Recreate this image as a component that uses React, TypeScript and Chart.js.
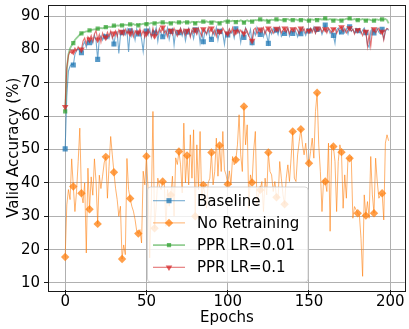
import React, { useEffect, useRef } from 'react';
import { Chart, registerables } from 'chart.js';

Chart.register(...registerables);

const epochs: number[] = Array.from({ length: 200 }, (_, i) => i);

const baseline: number[] = [
  50.2, 66.0, 73.5, 75.0, 75.6, 75.3, 78.5, 79.6, 80.2, 79.4,
  79.0, 81.2, 82.3, 80.6, 82.8, 82.0, 83.1, 81.9, 84.2, 82.6,
  77.0, 83.2, 84.1, 82.8, 84.6, 83.8, 84.4, 83.3, 85.1, 84.0,
  81.6, 84.5, 85.2, 78.8, 84.1, 85.0, 86.0, 84.4, 85.9, 79.2,
  85.6, 83.9, 85.4, 82.8, 86.1, 84.6, 85.5, 83.1, 79.4, 84.6,
  85.5, 84.2, 86.3, 83.6, 85.8, 84.9, 86.5, 82.4, 85.7, 84.8,
  83.8, 85.9, 84.2, 86.4, 83.0, 85.4, 86.2, 81.3, 85.6, 84.5,
  85.0, 86.3, 84.1, 85.8, 82.6, 85.2, 86.4, 84.0, 85.5, 83.2,
  85.9, 84.7, 86.2, 81.9, 85.3, 82.3, 85.8, 84.4, 86.0, 83.5,
  83.0, 85.6, 84.3, 86.5, 82.8, 85.4, 86.1, 84.6, 81.5, 85.2,
  84.3, 86.0, 84.8, 85.5, 83.4, 86.2, 84.9, 85.7, 82.1, 85.3,
  83.6, 86.4, 85.0, 84.1, 86.0, 82.0, 85.5, 84.3, 86.6, 85.1,
  84.5, 86.2, 83.8, 85.6, 84.2, 81.8, 85.9, 84.6, 86.3, 85.0,
  85.8, 84.4, 86.5, 83.9, 84.8, 84.8, 85.2, 86.4, 84.0, 85.7,
  84.8, 86.3, 85.1, 83.8, 86.0, 84.7, 86.5, 85.3, 84.2, 86.1,
  85.5, 86.2, 85.4, 86.7, 84.9, 86.0, 85.6, 86.3, 84.5, 85.8,
  87.3, 85.3, 86.1, 84.8, 85.5, 84.2, 81.8, 85.9, 86.4, 84.7,
  85.2, 86.5, 85.0, 86.2, 84.6, 86.8, 85.4, 86.0, 84.9, 86.3,
  85.6, 86.1, 84.8, 85.7, 86.4, 85.0, 81.4, 80.6, 85.5, 86.2,
  84.9, 85.8, 86.3, 85.1, 84.6, 86.0, 83.1, 85.4, 86.2, 85.7,
];

const noRetraining: number[] = [
  17.8, 33.4, 38.0, 35.0, 47.2, 38.9, 31.4, 37.5, 46.4, 56.4,
  36.9, 34.0, 40.0, 19.0, 44.4, 32.1, 41.8, 36.3, 47.2, 40.3,
  27.7, 42.3, 38.3, 42.0, 46.0, 47.8, 35.4, 45.0, 53.9, 48.4,
  43.2, 38.4, 35.0, 30.0, 33.0, 17.2, 21.4, 18.5, 47.3, 38.0,
  35.3, 33.0, 31.5, 29.0, 25.6, 24.8, 26.0, 22.0, 43.5, 39.4,
  48.0, 38.0, 17.5, 34.0, 61.4, 26.4, 33.0, 41.4, 39.0, 38.0,
  40.4, 39.9, 27.0, 38.0, 33.0, 36.4, 42.0, 30.0, 47.5, 45.5,
  49.4, 45.4, 37.0, 57.9, 40.0, 48.2, 39.4, 54.4, 41.4, 55.9,
  30.0, 51.4, 38.0, 55.4, 35.0, 39.4, 36.4, 32.4, 40.0, 41.4,
  49.1, 39.4, 43.4, 53.4, 42.0, 51.2, 43.4, 55.4, 43.9, 42.4,
  39.6, 43.6, 39.4, 47.9, 45.4, 46.9, 51.4, 60.4, 48.4, 43.4,
  62.9, 51.4, 57.4, 32.4, 42.4, 40.1, 49.9, 55.4, 33.4, 36.4,
  37.9, 40.4, 31.4, 41.4, 36.4, 49.1, 43.4, 42.4, 37.4, 40.4,
  35.7, 35.4, 46.4, 41.4, 36.4, 33.6, 41.4, 45.4, 40.4, 47.4,
  55.4, 41.4, 40.4, 48.4, 52.4, 56.1, 51.4, 48.4, 51.9, 46.4,
  45.9, 49.4, 53.4, 47.4, 61.4, 67.0, 51.4, 43.4, 31.4, 40.9,
  40.4, 37.4, 51.9, 25.5, 51.4, 50.9, 46.4, 31.4, 46.4, 51.4,
  49.2, 32.4, 42.4, 35.4, 47.4, 47.4, 47.9, 29.4, 32.9, 31.9,
  30.9, 30.4, 23.4, 12.0, 36.4, 30.2, 34.4, 29.4, 47.9, 36.4,
  30.9, 47.4, 40.4, 35.4, 36.4, 36.9, 28.9, 51.9, 54.4, 52.6,
];

const pprLr001: number[] = [
  61.4, 74.0, 78.5, 80.3, 81.2, 81.9, 82.8, 83.4, 83.9, 84.4,
  84.8, 85.0, 85.2, 85.4, 85.5, 85.7, 85.8, 85.9, 86.0, 86.1,
  86.2, 86.2, 86.4, 86.3, 86.5, 86.7, 86.6, 86.8, 86.7, 86.9,
  87.1, 87.0, 87.2, 87.1, 87.3, 87.2, 87.3, 87.4, 87.3, 87.5,
  87.5, 87.4, 87.6, 87.3, 87.5, 87.2, 87.6, 87.5, 87.7, 87.6,
  87.6, 87.8, 87.7, 87.9, 87.8, 87.8, 88.0, 87.9, 88.1, 88.0,
  88.1, 87.9, 88.0, 87.8, 88.1, 87.8, 88.0, 88.2, 88.0, 88.1,
  88.1, 88.2, 88.0, 88.3, 88.1, 88.1, 88.2, 88.0, 88.3, 88.2,
  87.8, 88.2, 88.3, 88.1, 88.4, 88.3, 88.2, 88.4, 88.1, 88.3,
  88.0, 88.3, 88.4, 88.2, 88.1, 87.8, 88.3, 88.2, 88.5, 88.4,
  88.3, 88.5, 88.4, 88.6, 88.5, 88.2, 88.6, 88.4, 88.7, 88.5,
  88.0, 88.5, 88.7, 88.4, 88.6, 88.3, 88.6, 88.8, 88.7, 88.9,
  89.0, 88.7, 88.8, 88.6, 88.9, 88.3, 88.7, 88.9, 88.8, 89.0,
  89.0, 88.8, 88.9, 88.7, 88.9, 88.8, 88.9, 89.1, 88.8, 88.9,
  88.8, 88.9, 89.0, 88.7, 88.9, 88.8, 88.9, 89.0, 88.8, 88.7,
  88.6, 88.9, 89.0, 88.8, 89.1, 88.8, 89.0, 89.1, 88.9, 89.2,
  89.3, 89.0, 88.9, 89.1, 88.8, 88.6, 88.9, 89.0, 88.8, 88.9,
  88.6, 88.9, 89.0, 89.2, 89.1, 89.3, 89.0, 88.9, 89.1, 88.8,
  88.8, 89.0, 88.9, 89.1, 88.8, 88.6, 88.9, 89.0, 88.8, 88.7,
  88.6, 88.9, 89.0, 88.8, 89.1, 89.0, 88.9, 89.1, 88.8, 87.8,
];

const pprLr01: number[] = [
  62.8, 74.5, 78.2, 79.5, 78.8, 79.3, 80.4, 79.6, 80.8, 79.9,
  80.0, 82.5, 83.4, 81.6, 83.8, 83.0, 84.2, 82.4, 84.6, 85.6,
  83.0, 84.5, 82.2, 84.9, 83.6, 83.6, 85.2, 84.0, 85.5, 83.4,
  84.8, 85.6, 83.9, 85.8, 84.5, 85.3, 84.2, 86.0, 84.7, 85.9,
  84.8, 86.1, 83.8, 85.5, 84.6, 85.1, 86.2, 84.3, 85.7, 83.6,
  84.8, 86.0, 85.1, 83.9, 86.4, 84.0, 85.8, 84.6, 86.3, 85.2,
  86.6, 84.9, 85.7, 83.8, 86.1, 85.6, 84.4, 86.3, 85.0, 83.9,
  85.3, 86.4, 84.7, 85.9, 84.2, 85.6, 86.2, 83.7, 85.8, 84.9,
  85.9, 84.5, 86.3, 85.1, 84.0, 86.1, 85.4, 84.7, 86.5, 85.2,
  86.3, 84.6, 85.8, 83.9, 86.0, 85.3, 84.8, 86.4, 85.5, 84.4,
  84.8, 86.2, 85.0, 86.5, 84.3, 85.3, 86.1, 84.9, 85.8, 85.1,
  84.8, 86.3, 85.5, 84.0, 83.1, 82.6, 85.9, 86.4, 84.7, 85.8,
  86.0, 85.1, 86.5, 84.6, 85.9, 86.3, 85.0, 86.1, 84.8, 85.7,
  86.2, 85.4, 86.6, 84.9, 85.8, 86.3, 85.2, 86.4, 84.7, 86.0,
  86.1, 85.3, 86.5, 85.7, 84.6, 86.3, 85.5, 86.2, 84.9, 85.8,
  85.6, 86.4, 85.1, 86.3, 84.8, 86.3, 85.6, 86.5, 85.2, 86.0,
  86.1, 84.9, 86.4, 85.7, 85.0, 86.1, 86.3, 84.8, 85.9, 86.4,
  86.7, 85.3, 86.2, 84.9, 85.8, 86.4, 85.5, 86.1, 84.6, 85.9,
  85.8, 86.3, 85.2, 84.1, 85.9, 85.3, 80.8, 84.5, 80.9, 85.6,
  86.1, 85.0, 85.8, 86.4, 84.9, 85.3, 82.8, 85.7, 86.3, 86.0,
];

const seriesLabels: string[] = ['Baseline', 'No Retraining', 'PPR LR=0.01', 'PPR LR=0.1'];
const xTicks: number[] = [0, 50, 100, 150, 200];
const yTicks: number[] = [10, 20, 30, 40, 50, 60, 70, 80, 90];
const xTitle = 'Epochs';
const yTitle = 'Valid Accuracy (%)';

const FONT = '"DejaVu Sans", sans-serif';

type Style = { line: string; marker: string; point: string; radius: number; rotation: number; width: number };
const styles: Style[] = [
  { line: 'rgba(31,119,180,0.62)', marker: 'rgba(31,119,180,0.75)', point: 'rect', radius: 3.6, rotation: 0, width: 1.1 },
  { line: 'rgba(255,127,14,0.6)', marker: 'rgba(255,127,14,0.75)', point: 'rectRot', radius: 4.2, rotation: 0, width: 1.0 },
  { line: 'rgba(44,160,44,0.5)', marker: 'rgba(44,160,44,0.7)', point: 'rect', radius: 3.0, rotation: 0, width: 1.8 },
  { line: 'rgba(214,39,40,0.65)', marker: 'rgba(214,39,40,0.75)', point: 'triangle', radius: 3.8, rotation: 180, width: 1.1 },
];

function drawMarker(ctx: CanvasRenderingContext2D, s: Style, x: number, y: number) {
  const r = s.radius;
  ctx.beginPath();
  if (s.point === 'rect') {
    const h = r * Math.SQRT1_2;
    ctx.rect(x - h, y - h, 2 * h, 2 * h);
  } else if (s.point === 'rectRot') {
    ctx.moveTo(x, y - r);
    ctx.lineTo(x + r, y);
    ctx.lineTo(x, y + r);
    ctx.lineTo(x - r, y);
    ctx.closePath();
  } else {
    let rad = (s.rotation * Math.PI) / 180;
    for (let k = 0; k < 3; k++) {
      const px = x + Math.sin(rad) * r;
      const py = y - Math.cos(rad) * r;
      if (k === 0) ctx.moveTo(px, py);
      else ctx.lineTo(px, py);
      rad += (2 * Math.PI) / 3;
    }
    ctx.closePath();
  }
  ctx.fillStyle = s.marker;
  ctx.fill();
}

const framePlugin = {
  id: 'mplFrame',
  afterDraw(chart: any) {
    const { ctx, chartArea: a } = chart;
    ctx.save();
    ctx.strokeStyle = '#1a1a1a';
    ctx.lineWidth = 1;
    ctx.strokeRect(Math.round(a.left) - 0.5, Math.round(a.top) - 0.5, Math.round(a.right - a.left) + 1, Math.round(a.bottom - a.top) + 1);

    const bx = a.left + 98.5;
    const by = a.top + 181.5;
    const bw = 160.5;
    const bh = 95;
    const rr = 3;
    ctx.beginPath();
    ctx.moveTo(bx + rr, by);
    ctx.lineTo(bx + bw - rr, by);
    ctx.quadraticCurveTo(bx + bw, by, bx + bw, by + rr);
    ctx.lineTo(bx + bw, by + bh - rr);
    ctx.quadraticCurveTo(bx + bw, by + bh, bx + bw - rr, by + bh);
    ctx.lineTo(bx + rr, by + bh);
    ctx.quadraticCurveTo(bx, by + bh, bx, by + bh - rr);
    ctx.lineTo(bx, by + rr);
    ctx.quadraticCurveTo(bx, by, bx + rr, by);
    ctx.closePath();
    ctx.fillStyle = 'rgba(255,255,255,0.8)';
    ctx.fill();
    ctx.strokeStyle = 'rgba(204,204,204,0.8)';
    ctx.lineWidth = 1;
    ctx.stroke();

    ctx.font = `15px ${FONT}`;
    ctx.textBaseline = 'middle';
    ctx.textAlign = 'left';
    chart.data.datasets.forEach((ds: any, i: number) => {
      const s = styles[i];
      const cy = by + 13.7 + i * 22.2;
      ctx.beginPath();
      ctx.strokeStyle = s.line;
      ctx.lineWidth = s.width;
      ctx.moveTo(bx + 5.5, cy);
      ctx.lineTo(bx + 37.5, cy);
      ctx.stroke();
      drawMarker(ctx, s, bx + 21.5, cy);
      ctx.fillStyle = '#000';
      ctx.fillText(ds.label, bx + 49.5, cy + 1);
    });
    ctx.restore();
  },
};

export default function App() {
  const ref = useRef<HTMLCanvasElement | null>(null);

  useEffect(() => {
    const canvas = ref.current;
    if (!canvas) return;
    const seriesValues = [baseline, noRetraining, pprLr001, pprLr01];
    const datasets = seriesValues.map((vals, i) => {
      const s = styles[i];
      return {
        label: seriesLabels[i],
        data: vals.map((v, j) => ({ x: epochs[j], y: v })),
        borderColor: s.line,
        backgroundColor: s.marker,
        borderWidth: s.width,
        pointStyle: s.point,
        pointRotation: s.rotation,
        pointRadius: (c: any) => (c.dataIndex % 5 === 0 ? s.radius : 0),
        pointHoverRadius: 0,
        pointBorderWidth: 0,
        pointBackgroundColor: s.marker,
        pointBorderColor: s.marker,
        tension: 0,
        fill: false,
        order: 4 - i,
      };
    });

    const chart = new Chart(canvas, {
      type: 'line',
      data: { datasets },
      plugins: [framePlugin],
      options: {
        animation: false,
        responsive: false,
        devicePixelRatio: 1,
        layout: { padding: { top: 5.5, right: 3, left: 0, bottom: 0 } },
        plugins: { legend: { display: false }, tooltip: { enabled: false } },
        scales: {
          x: {
            type: 'linear',
            min: -9.95,
            max: 208.95,
            afterBuildTicks: (s: any) => {
              s.ticks = xTicks.map((v) => ({ value: v }));
            },
            afterFit: (s: any) => {
              s.height = 39;
              s.paddingLeft = 0;
              s.paddingRight = 0;
            },
            grid: { color: '#b0b0b0', lineWidth: 1, tickColor: '#1a1a1a', tickLength: 5, tickWidth: 1 },
            border: { display: false },
            ticks: {
              color: '#000',
              font: { family: FONT, size: 15, lineHeight: 1 },
              padding: 0,
              maxRotation: 0,
              autoSkip: false,
              callback: (v: any) => String(v),
            },
            title: {
              display: true,
              text: xTitle,
              color: '#000',
              font: { family: FONT, size: 15, lineHeight: 1.2 },
              padding: { top: 0, bottom: 2 },
            },
          },
          y: {
            type: 'linear',
            min: 7.9,
            max: 93.15,
            afterBuildTicks: (s: any) => {
              s.ticks = yTicks.map((v) => ({ value: v }));
            },
            afterFit: (s: any) => {
              s.width = 49;
              s.paddingTop = 0;
              s.paddingBottom = 0;
            },
            grid: { color: '#b0b0b0', lineWidth: 1, tickColor: '#1a1a1a', tickLength: 5, tickWidth: 1 },
            border: { display: false },
            ticks: {
              color: '#000',
              font: { family: FONT, size: 15, lineHeight: 1 },
              padding: 4,
              autoSkip: false,
              callback: (v: any) => String(v),
            },
            title: {
              display: true,
              text: yTitle,
              color: '#000',
              font: { family: FONT, size: 15, lineHeight: 1.2 },
              padding: { top: 5, bottom: 0 },
            },
          },
        },
      },
    } as any);
    return () => chart.destroy();
  }, []);

  return (
    <div style={{ position: 'fixed', left: 0, top: 0, width: 409, height: 329, background: '#fff' }}>
      <canvas ref={ref} width={409} height={329} style={{ display: 'block', width: 409, height: 329 }} />
    </div>
  );
}
